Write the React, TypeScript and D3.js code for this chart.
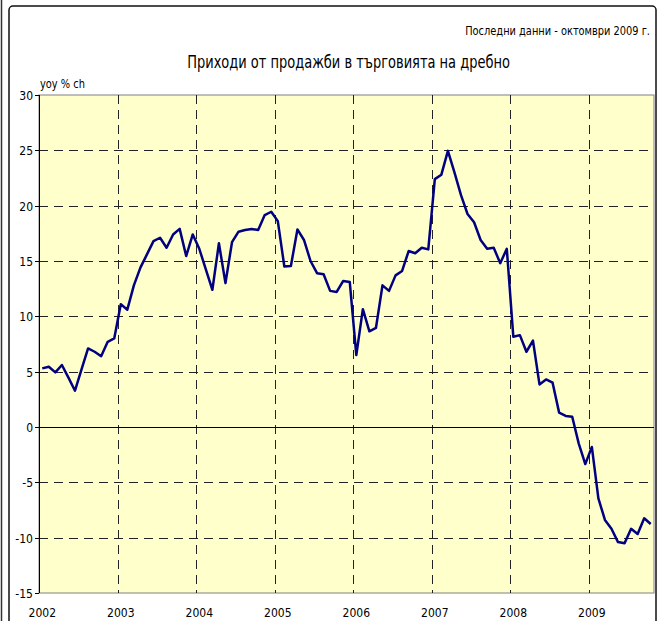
// RetailSalesChart.tsx
import React, { useRef, useEffect } from "react";
import * as d3 from "d3";

// Годишни серии (yoy % ch), по месеци
const years = ["2002", "2003", "2004", "2005", "2006", "2007", "2008", "2009"];
const values2002 = [5.3, 5.45, 4.94, 5.6, 4.46, 3.28, 5.2, 7.1, 6.8, 6.4, 7.7, 8.0];
const values2003 = [11.1, 10.6, 12.8, 14.4, 15.6, 16.8, 17.1, 16.2, 17.4, 17.9, 15.45, 17.4];
const values2004 = [16.1, 14.25, 12.4, 16.6, 13.0, 16.7, 17.65, 17.8, 17.9, 17.8, 19.15, 19.45];
const values2005 = [18.6, 14.5, 14.55, 17.85, 16.9, 15.0, 13.9, 13.8, 12.3, 12.2, 13.2, 13.1];
const values2006 = [6.5, 10.65, 8.65, 8.95, 12.8, 12.3, 13.7, 14.1, 15.9, 15.7, 16.2, 16.05];
const values2007 = [22.4, 22.8, 24.95, 23.0, 20.95, 19.25, 18.5, 16.9, 16.1, 16.2, 14.8, 16.1];
const values2008 = [8.15, 8.3, 6.8, 7.8, 3.85, 4.3, 4.0, 1.3, 1.0, 0.93, -1.5, -3.35];
const values2009 = [-1.8, -6.45, -8.4, -9.2, -10.4, -10.5, -9.2, -9.67, -8.25, -8.77];
const yTicks = [-15, -10, -5, 0, 5, 10, 15, 20, 25, 30];

const title = "Приходи от продажби в търговията на дребно";
const subtitle = "Последни данни - октомври 2009 г.";
const unitLabel = "yoy % ch";

const font = "'DejaVu Sans Condensed', 'DejaVu Sans', sans-serif";

// Свива текста хоризонтално до зададената ширина (шрифтът в оригинала е по-тесен)
function squeeze(
  sel: d3.Selection<SVGTextElement, unknown, null, undefined>,
  x: number,
  y: number,
  target: number
) {
  const natural = sel.node()!.getComputedTextLength() || target;
  const k = Math.min(1, target / natural);
  sel.attr("transform", `translate(${x},${y}) scale(${k},1)`);
}

const App: React.FC = () => {
  const ref = useRef<SVGSVGElement | null>(null);

  useEffect(() => {
    if (!ref.current) return;
    const width = 658;
    const height = 621;
    const margin = { top: 95, right: 4, bottom: 28, left: 39 };

    const series = [values2002, values2003, values2004, values2005, values2006, values2007, values2008, values2009];
    const data = series.flatMap((vals, yi) =>
      vals.map((v, m) => ({ key: `${years[yi]}-${m + 1}`, year: years[yi], month: m, value: v }))
    );

    const x = d3
      .scaleBand<string>()
      .domain(data.map((d) => d.key))
      .range([margin.left, width - margin.right])
      .padding(0);

    const y = d3
      .scaleLinear()
      .domain([-15, 30])
      .range([height - margin.bottom, margin.top]);

    const svg = d3.select(ref.current).attr("width", width).attr("height", height);
    svg.selectAll("*").remove();

    // рамка на диаграмата
    svg.append("rect").attr("width", width).attr("height", height).attr("fill", "#fff");
    svg.append("line").attr("x1", 1.5).attr("x2", 1.5).attr("y1", 0).attr("y2", height)
      .attr("stroke", "#333").attr("stroke-width", 1.5);
    svg.append("rect")
      .attr("x", 9).attr("y", 6).attr("width", width - 11).attr("height", height + 10)
      .attr("rx", 4).attr("fill", "none").attr("stroke", "#111").attr("stroke-width", 1.5);

    // зона на графиката
    svg.append("rect")
      .attr("x", margin.left).attr("y", y(30))
      .attr("width", width - margin.right - margin.left)
      .attr("height", y(-15) - y(30))
      .attr("fill", "#FFFFCC")
      .attr("stroke", "#808080").attr("stroke-width", 1);

    // хоризонтални линии
    svg.append("g")
      .selectAll("line")
      .data(yTicks.filter((t) => t !== 0 && t !== -15 && t !== 30))
      .join("line")
      .attr("x1", margin.left).attr("x2", width - margin.right)
      .attr("y1", (d) => Math.round(y(d)) + 0.5).attr("y2", (d) => Math.round(y(d)) + 0.5)
      .attr("stroke", "#222").attr("stroke-dasharray", "9,6");

    // вертикални линии при началото на годината
    svg.append("g")
      .selectAll("line")
      .data(years.slice(1))
      .join("line")
      .attr("x1", (d) => Math.round(x(`${d}-1`)!) + 0.5).attr("x2", (d) => Math.round(x(`${d}-1`)!) + 0.5)
      .attr("y1", y(30)).attr("y2", y(-15))
      .attr("stroke", "#222").attr("stroke-dasharray", "9,6");

    // ос X при нула
    svg.append("line")
      .attr("x1", margin.left).attr("x2", width - margin.right)
      .attr("y1", Math.round(y(0)) + 0.5).attr("y2", Math.round(y(0)) + 0.5)
      .attr("stroke", "#000");

    // ос Y
    const yAxis = svg.append("g");
    yAxis.append("line")
      .attr("x1", margin.left + 0.5).attr("x2", margin.left + 0.5)
      .attr("y1", y(30)).attr("y2", y(-15)).attr("stroke", "#000");
    yAxis.selectAll("g.tick")
      .data(yTicks)
      .join("g")
      .attr("class", "tick")
      .attr("transform", (d) => `translate(0,${Math.round(y(d)) + 0.5})`)
      .call((g) => g.append("line").attr("x1", margin.left - 4).attr("x2", margin.left).attr("stroke", "#000"))
      .call((g) =>
        g.append("text")
          .attr("x", margin.left - 6).attr("dy", "0.35em")
          .attr("text-anchor", "end")
          .attr("font-family", font).attr("font-size", 12).attr("fill", "#000")
          .text((d) => d)
      );

    // етикети на годините
    svg.append("g")
      .selectAll("text")
      .data(years)
      .join("text")
      .attr("x", (d) => x(`${d}-1`)! + x.bandwidth() / 2)
      .attr("y", height - 4)
      .attr("text-anchor", "middle")
      .attr("font-family", font).attr("font-size", 12).attr("fill", "#000")
      .text((d) => d);

    // линията
    const line = d3
      .line<{ key: string; value: number }>()
      .x((d) => x(d.key)! + x.bandwidth() / 2)
      .y((d) => y(d.value));

    svg.append("path")
      .datum(data)
      .attr("d", line)
      .attr("fill", "none")
      .attr("stroke", "#000080")
      .attr("stroke-width", 2.5)
      .attr("stroke-linejoin", "round");

    // заглавия
    const sub = svg.append("text")
      .attr("text-anchor", "end")
      .attr("font-family", font).attr("font-size", 13).attr("fill", "#000")
      .text(subtitle);
    squeeze(sub, 650, 35, 185);

    const ttl = svg.append("text")
      .attr("text-anchor", "middle")
      .attr("font-family", font).attr("font-size", 17).attr("fill", "#000")
      .text(title);
    squeeze(ttl, 348.5, 68, 323);

    const unit = svg.append("text")
      .attr("font-family", font).attr("font-size", 12).attr("fill", "#000")
      .text(unitLabel);
    squeeze(unit, margin.left + 1, 88, 45);
  }, []);

  return <svg ref={ref} style={{ position: "absolute", left: 0, top: 0 }}></svg>;
};

export default App;
